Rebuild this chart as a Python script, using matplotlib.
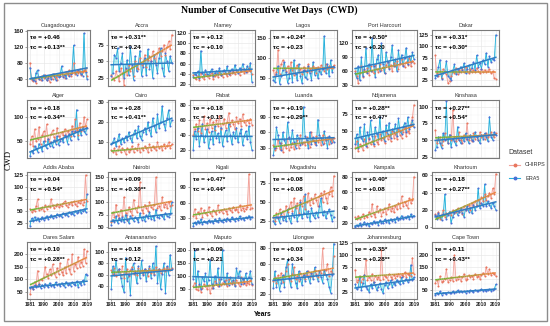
import numpy as np
import matplotlib
matplotlib.use("Agg")
import matplotlib.pyplot as plt
from matplotlib.collections import LineCollection
from matplotlib.patches import Rectangle
from matplotlib.lines import Line2D
from matplotlib.ticker import AutoMinorLocator

plt.rcParams["font.family"] = ["Liberation Sans", "DejaVu Sans"]

# ---------------- data ----------------
years = list(range(1981, 2020))
x_ticks = [1981, 1990, 2000, 2010, 2019]

cities = ["Ouagadougou", "Accra", "Niamey", "Lagos", "Port Harcourt", "Dakar",
          "Alger", "Cairo", "Rabat", "Luanda", "Ndjamena", "Kinshasa",
          "Addis Ababa", "Nairobi", "Kigali", "Mogadishu", "Kampala", "Khartoum",
          "Dares Salam", "Antananarivo", "Maputo", "Lilongwe", "Johannesburg", "Cape Town"]

tau_e = ["+0.46", "+0.31**", "+0.12", "+0.24*", "+0.50*", "+0.31*",
         "+0.18", "+0.28", "+0.18", "+0.19", "+0.28**", "+0.27**",
         "+0.04", "+0.09", "+0.47*", "+0.08", "+0.40*", "+0.18",
         "+0.10", "+0.18", "+0.09", "+0.03", "+0.35*", "+0.11"]
tau_c = ["+0.13**", "+0.24", "+0.10", "+0.23", "+0.20", "+0.30*",
         "+0.34**", "+0.41**", "+0.13", "+0.29**", "+0.47*", "+0.54*",
         "+0.54*", "+0.30**", "+0.44*", "+0.08", "+0.08", "+0.27**",
         "+0.28**", "+0.12", "+0.21", "+0.34", "+0.28**", "+0.43**"]

y_ticks = [[40, 80, 120, 160], [25, 50, 75], [20, 40, 60, 80, 100, 120], [50, 100, 150],
           [30, 60, 90, 120], [25, 50, 75, 100, 125],
           [50, 100], [10, 20, 30], [20, 40, 60, 80], [30, 60, 90], [25, 50, 75], [25, 50, 75, 100],
           [25, 50, 75, 100, 125], [50, 75, 100, 125, 150], [30, 60, 90], [25, 50, 75],
           [20, 40, 60, 80], [0, 20, 40, 60],
           [50, 100, 150, 200], [40, 60, 80, 100], [50, 100, 150, 200], [20, 40, 60, 80],
           [25, 50, 75, 100, 125], [50, 100, 150, 200]]
y_lims = [(22, 162), (13, 97), (17, 125), (30, 170), (28, 148), (12, 136),
          (15, 135), (2, 31), (9, 87), (10, 123), (10, 95), (23, 110),
          (15, 131), (48, 160), (11, 119), (15, 90), (14, 86), (-1, 64),
          (20, 250), (18, 117), (12, 230), (14, 88), (10, 127), (13, 255)]

chirps_ouagadougou = [80, 38, 35, 42, 30, 45, 40, 36, 48, 42, 50, 38, 44, 32, 46, 40, 52, 45, 38, 50,
                      46, 55, 48, 42, 58, 50, 62, 47, 55, 80, 52, 60, 55, 64, 50, 58, 62, 66, 48]
era5_ouagadougou = [68, 42, 38, 35, 55, 62, 40, 45, 38, 50, 45, 36, 42, 48, 40, 52, 46, 38, 50, 44,
                    48, 72, 45, 50, 42, 55, 48, 52, 60, 124, 56, 50, 62, 58, 52, 48, 154, 58, 40]
chirps_accra = [30, 25, 22, 35, 28, 20, 40, 32, 15, 38, 30, 45, 35, 42, 28, 50, 40, 38, 55, 45,
                48, 60, 42, 52, 58, 50, 65, 55, 48, 62, 70, 58, 66, 75, 60, 72, 80, 68, 90]
era5_accra = [28, 32, 60, 55, 70, 35, 48, 62, 25, 40, 52, 30, 72, 45, 22, 58, 35, 48, 66, 28,
              42, 55, 30, 68, 38, 50, 25, 60, 45, 32, 55, 70, 40, 28, 62, 50, 35, 58, 48]
chirps_niamey = [38, 32, 30, 36, 28, 42, 34, 30, 40, 36, 33, 38, 42, 30, 36, 40, 34, 44, 38, 35,
                 42, 40, 36, 45, 38, 42, 46, 40, 48, 44, 38, 46, 50, 42, 48, 44, 52, 46, 40]
era5_niamey = [35, 40, 38, 45, 32, 85, 42, 36, 48, 40, 38, 44, 50, 36, 42, 46, 40, 52, 38, 45,
               48, 42, 55, 40, 46, 50, 44, 58, 48, 42, 52, 46, 60, 50, 44, 56, 48, 62, 25]
chirps_lagos = [70, 55, 65, 120, 60, 85, 95, 75, 68, 80, 62, 90, 70, 58, 75, 82, 66, 72, 60, 78,
                70, 64, 85, 72, 68, 80, 74, 62, 78, 70, 82, 76, 68, 84, 72, 80, 78, 74, 82]
era5_lagos = [45, 40, 60, 80, 35, 55, 70, 90, 65, 38, 50, 75, 40, 95, 60, 45, 85, 55, 38, 70,
              52, 48, 80, 62, 45, 90, 58, 75, 50, 68, 60, 72, 155, 62, 85, 55, 95, 65, 78]
chirps_portharcourt = [60, 50, 35, 55, 70, 48, 62, 58, 66, 52, 70, 60, 55, 72, 64, 58, 75, 62, 68, 55,
                       72, 80, 66, 74, 60, 78, 70, 82, 65, 76, 85, 72, 68, 80, 74, 88, 70, 82, 78]
era5_portharcourt = [55, 45, 70, 40, 90, 50, 65, 110, 55, 75, 60, 130, 70, 48, 85, 95, 60, 120, 75, 55,
                     100, 80, 65, 90, 115, 70, 85, 60, 105, 78, 95, 70, 88, 110, 75, 92, 80, 100, 85]
chirps_dakar = [80, 40, 35, 45, 30, 50, 42, 38, 18, 22, 35, 45, 40, 52, 38, 48, 44, 50, 42, 55,
                46, 40, 50, 44, 48, 42, 52, 45, 40, 50, 44, 48, 42, 46, 50, 40, 45, 30, 28]
era5_dakar = [30, 35, 55, 70, 28, 40, 45, 68, 35, 30, 25, 45, 60, 38, 50, 42, 55, 48, 62, 40,
              50, 58, 45, 52, 65, 48, 80, 55, 62, 50, 70, 60, 85, 55, 78, 65, 72, 70, 125]

chirps_alger = [45, 60, 40, 75, 50, 55, 80, 45, 62, 70, 50, 85, 55, 48, 65, 72, 58, 50, 78, 60,
                55, 68, 62, 75, 58, 70, 65, 60, 82, 68, 95, 72, 62, 88, 70, 75, 100, 80, 95]
era5_alger = [20, 30, 25, 40, 35, 28, 45, 38, 30, 50, 42, 35, 55, 40, 48, 38, 52, 45, 60, 42,
              50, 55, 48, 62, 58, 45, 65, 52, 70, 60, 70, 115, 55, 75, 62, 80, 70, 65, 78]
chirps_cairo = [6, 5, 7, 4, 6, 8, 5, 7, 6, 4, 7, 5, 6, 8, 5, 7, 6, 9, 5, 7,
                6, 8, 7, 5, 9, 6, 8, 7, 6, 10, 7, 8, 6, 9, 7, 8, 10, 7, 9]
era5_cairo = [9, 10, 12, 8, 11, 14, 9, 12, 10, 13, 11, 15, 12, 10, 14, 16, 12, 18, 13, 11,
              15, 17, 14, 20, 16, 13, 22, 18, 15, 24, 17, 20, 28, 19, 16, 22, 26, 18, 21]
chirps_rabat = [40, 48, 55, 45, 60, 42, 52, 65, 48, 56, 44, 62, 50, 58, 46, 60, 52, 66, 48, 55,
                62, 50, 58, 70, 52, 60, 55, 48, 64, 56, 62, 52, 68, 58, 54, 60, 56, 62, 54]
era5_rabat = [20, 45, 35, 50, 25, 40, 55, 30, 38, 48, 22, 35, 45, 28, 52, 36, 42, 30, 50, 25,
              38, 46, 32, 55, 40, 28, 44, 36, 50, 30, 42, 48, 26, 38, 45, 34, 52, 30, 20]
chirps_luanda = [35, 25, 30, 45, 28, 40, 22, 35, 30, 48, 25, 32, 40, 28, 36, 45, 30, 55, 38, 42,
                 35, 50, 40, 32, 60, 45, 38, 52, 42, 48, 35, 55, 40, 45, 50, 38, 46, 42, 48]
era5_luanda = [15, 30, 70, 55, 40, 25, 60, 45, 35, 80, 50, 38, 65, 42, 30, 55, 48, 35, 40, 110,
               52, 45, 30, 60, 38, 50, 42, 35, 85, 55, 48, 38, 62, 45, 30, 52, 40, 48, 42]
chirps_ndjamena = [25, 35, 20, 30, 28, 22, 38, 32, 26, 40, 30, 35, 28, 42, 34, 30, 45, 36, 40, 32,
                   48, 38, 42, 35, 50, 40, 45, 38, 52, 44, 40, 48, 55, 42, 50, 46, 60, 70, 88]
era5_ndjamena = [30, 45, 25, 55, 40, 35, 60, 28, 48, 38, 65, 42, 30, 55, 45, 38, 70, 40, 50, 35,
                 58, 45, 62, 40, 52, 48, 60, 42, 68, 50, 45, 55, 62, 48, 70, 52, 58, 65, 55]
chirps_kinshasa = [65, 45, 50, 55, 42, 48, 60, 52, 45, 58, 50, 95, 55, 48, 52, 62, 50, 45, 58, 52,
                   75, 50, 55, 48, 60, 52, 56, 50, 62, 55, 58, 52, 60, 55, 57, 62, 58, 55, 60]
era5_kinshasa = [35, 40, 55, 45, 38, 60, 50, 108, 45, 58, 40, 52, 48, 42, 70, 50, 45, 55, 48, 60,
                 52, 45, 58, 50, 48, 62, 55, 50, 45, 58, 52, 60, 55, 48, 85, 55, 50, 62, 58]

chirps_addis = [55, 48, 52, 50, 60, 75, 52, 55, 58, 50, 62, 55, 60, 58, 75, 62, 56, 60, 65, 58,
                62, 60, 66, 70, 62, 58, 65, 68, 62, 70, 65, 60, 68, 66, 72, 62, 68, 125, 70]
era5_addis = [20, 35, 30, 38, 32, 36, 30, 34, 38, 32, 36, 40, 34, 38, 42, 36, 40, 38, 44, 40,
              42, 38, 46, 42, 44, 40, 48, 44, 46, 42, 50, 46, 48, 52, 46, 50, 54, 48, 85]
chirps_nairobi = [60, 80, 70, 95, 75, 68, 85, 72, 110, 78, 65, 90, 82, 75, 105, 88, 80, 92, 140, 85,
                  78, 95, 88, 82, 100, 90, 86, 95, 150, 88, 92, 84, 110, 90, 96, 88, 100, 92, 95]
era5_nairobi = [55, 65, 60, 72, 58, 68, 62, 70, 60, 75, 65, 58, 72, 68, 62, 70, 66, 60, 78, 65,
                70, 62, 74, 68, 80, 66, 72, 64, 85, 70, 68, 75, 72, 66, 78, 72, 70, 76, 100]
chirps_kigali = [35, 48, 30, 42, 38, 50, 32, 45, 40, 36, 52, 40, 34, 46, 42, 38, 55, 42, 45, 40,
                 48, 44, 38, 50, 46, 42, 52, 45, 48, 42, 55, 46, 50, 44, 48, 52, 115, 48, 50]
era5_kigali = [15, 22, 18, 25, 20, 28, 18, 24, 22, 20, 26, 22, 25, 20, 28, 24, 22, 30, 25, 22,
               28, 24, 30, 26, 24, 32, 28, 25, 30, 27, 34, 28, 30, 26, 32, 30, 35, 28, 32]
chirps_mogadishu = [30, 25, 35, 28, 40, 32, 38, 30, 45, 36, 42, 50, 38, 55, 42, 48, 35, 52, 45, 58,
                    40, 50, 62, 46, 55, 48, 60, 52, 45, 58, 62, 50, 65, 55, 48, 60, 70, 58, 85]
era5_mogadishu = [25, 20, 30, 28, 22, 35, 26, 30, 24, 40, 28, 22, 35, 30, 45, 25, 32, 50, 28, 35,
                  60, 30, 38, 25, 42, 32, 28, 36, 30, 45, 55, 32, 38, 28, 35, 40, 32, 25, 30]
chirps_kampala = [28, 25, 30, 26, 28, 32, 27, 30, 28, 35, 30, 45, 32, 28, 42, 34, 38, 30, 35, 40,
                  32, 38, 45, 36, 40, 34, 42, 38, 46, 40, 55, 42, 48, 44, 40, 52, 46, 50, 80]
era5_kampala = [15, 18, 16, 20, 17, 19, 22, 18, 20, 16, 21, 19, 23, 20, 22, 18, 24, 21, 20, 25,
                22, 24, 20, 26, 23, 25, 22, 28, 24, 26, 30, 25, 28, 27, 30, 26, 32, 28, 30]
chirps_khartoum = [15, 12, 18, 10, 14, 20, 12, 16, 15, 18, 14, 20, 16, 18, 22, 17, 20, 15, 24, 20,
                   22, 26, 20, 28, 24, 30, 26, 32, 28, 35, 30, 38, 32, 36, 40, 34, 45, 38, 62]
era5_khartoum = [14, 10, 16, 12, 8, 15, 38, 10, 14, 18, 5, 12, 16, 20, 14, 18, 22, 16, 12, 20,
                 24, 18, 22, 16, 26, 20, 24, 45, 22, 28, 25, 50, 24, 30, 26, 22, 28, 24, 20]

chirps_daressalam = [40, 70, 60, 90, 75, 135, 80, 100, 95, 110, 150, 120, 105, 140, 115, 160, 125, 110, 145, 120,
                     165, 130, 115, 150, 125, 180, 140, 120, 200, 135, 160, 145, 190, 150, 170, 155, 220, 165, 215]
era5_daressalam = [65, 70, 60, 75, 68, 72, 80, 65, 78, 70, 82, 75, 68, 85, 72, 78, 70, 88, 75, 80,
                   72, 85, 78, 70, 90, 76, 82, 74, 88, 80, 75, 92, 70, 85, 78, 95, 82, 120, 115]
chirps_antananarivo = [68, 62, 72, 58, 66, 70, 60, 75, 55, 64, 70, 58, 68, 74, 62, 66, 60, 72, 65, 68,
                       62, 70, 66, 58, 72, 64, 68, 62, 74, 66, 70, 64, 68, 72, 66, 74, 70, 68, 72]
era5_antananarivo = [35, 75, 60, 85, 65, 70, 55, 40, 30, 90, 50, 60, 25, 70, 80, 65, 45, 75, 55, 85,
                     60, 70, 50, 65, 75, 55, 80, 60, 110, 45, 70, 35, 62, 80, 28, 75, 60, 95, 70]
chirps_maputo = [60, 75, 50, 45, 65, 40, 55, 70, 60, 50, 65, 35, 55, 60, 80, 70, 60, 90, 65, 75,
                 70, 85, 60, 90, 75, 70, 80, 65, 85, 75, 60, 95, 70, 80, 65, 75, 70, 85, 65]
era5_maputo = [90, 200, 60, 120, 70, 50, 95, 80, 110, 65, 85, 160, 70, 55, 100, 75, 130, 60, 90, 200,
               80, 70, 110, 65, 95, 75, 85, 60, 130, 100, 120, 70, 90, 75, 110, 80, 95, 120, 70]
chirps_lilongwe = [38, 42, 35, 45, 40, 48, 36, 44, 50, 60, 42, 38, 46, 55, 40, 44, 38, 48, 42, 46,
                   40, 45, 50, 42, 48, 44, 52, 46, 42, 50, 48, 80, 46, 52, 60, 44, 50, 48, 70]
era5_lilongwe = [28, 50, 30, 40, 25, 35, 45, 30, 55, 65, 40, 30, 60, 45, 35, 28, 50, 40, 32, 45,
                 38, 50, 42, 35, 48, 40, 55, 45, 38, 50, 42, 35, 52, 45, 40, 30, 22, 45, 86]
chirps_johannesburg = [70, 45, 50, 58, 45, 52, 60, 90, 48, 55, 50, 62, 45, 58, 52, 55, 48, 110, 52, 58,
                       55, 50, 62, 56, 52, 60, 54, 58, 62, 55, 60, 58, 65, 56, 62, 60, 58, 95, 62]
era5_johannesburg = [40, 30, 35, 55, 28, 42, 60, 35, 30, 25, 40, 32, 45, 38, 28, 35, 42, 30, 22, 38,
                     45, 32, 40, 48, 35, 42, 38, 50, 45, 40, 55, 42, 48, 52, 45, 50, 80, 48, 55]
chirps_capetown = [80, 95, 70, 110, 85, 90, 100, 140, 85, 95, 105, 90, 200, 95, 100, 110, 90, 105, 120, 95,
                   100, 115, 105, 110, 100, 120, 108, 112, 100, 115, 125, 110, 150, 120, 140, 115, 125, 118, 110]
era5_capetown = [30, 40, 35, 45, 32, 40, 38, 35, 42, 40, 38, 45, 40, 42, 50, 44, 48, 42, 46, 40,
                 48, 44, 50, 46, 42, 52, 48, 45, 50, 55, 48, 52, 46, 50, 54, 48, 52, 55, 75]

chirps = [chirps_ouagadougou, chirps_accra, chirps_niamey, chirps_lagos, chirps_portharcourt, chirps_dakar,
          chirps_alger, chirps_cairo, chirps_rabat, chirps_luanda, chirps_ndjamena, chirps_kinshasa,
          chirps_addis, chirps_nairobi, chirps_kigali, chirps_mogadishu, chirps_kampala, chirps_khartoum,
          chirps_daressalam, chirps_antananarivo, chirps_maputo, chirps_lilongwe, chirps_johannesburg,
          chirps_capetown]
era5 = [era5_ouagadougou, era5_accra, era5_niamey, era5_lagos, era5_portharcourt, era5_dakar,
        era5_alger, era5_cairo, era5_rabat, era5_luanda, era5_ndjamena, era5_kinshasa,
        era5_addis, era5_nairobi, era5_kigali, era5_mogadishu, era5_kampala, era5_khartoum,
        era5_daressalam, era5_antananarivo, era5_maputo, era5_lilongwe, era5_johannesburg,
        era5_capetown]

# ---------------- layout (pixels of a 550x326 image) ----------------
W, H = 550, 326
col_px = [(27, 90), (108, 175), (190, 255), (270, 337), (352, 417), (432, 499)]
row_px = [(30, 86), (100, 158), (172, 228), (242, 299)]

c_line, c_pt, c_fill = "#F2A39B", "#E8765E", "#F8766D"
e_line, e_pt, e_fill = "#27AEDC", "#4A6FD6", "#00C8D0"
green, orange = np.array([0.42, 0.72, 0.20]), np.array([0.93, 0.52, 0.25])

fig = plt.figure(figsize=(W / 100, H / 100), dpi=100)
fig.patches.append(Rectangle((4 / W, 1 - 321 / H), 543 / W, 318 / H, transform=fig.transFigure,
                             fill=False, edgecolor="#8C8C8C", linewidth=1.0))

yr = np.array(years, dtype=float)
for i, city in enumerate(cities):
    r, c = divmod(i, 6)
    l, rr = col_px[c]
    t, b = row_px[r]
    ax = fig.add_axes([l / W, 1 - b / H, (rr - l) / W, (b - t) / H])

    ch = np.array(chirps[i], dtype=float)
    er = np.array(era5[i], dtype=float)
    kc = np.polyfit(yr, ch, 1)
    ke = np.polyfit(yr, er, 1)
    tc = np.polyval(kc, yr)
    te = np.polyval(ke, yr)

    ax.fill_between(yr, ch, tc, step="mid", color=c_fill, alpha=0.2, linewidth=0)
    ax.fill_between(yr, er, te, step="mid", color=e_fill, alpha=0.28, linewidth=0)
    ax.plot(yr, ch, color=c_line, lw=0.6, zorder=3)
    ax.plot(yr, er, color=e_line, lw=0.6, zorder=3)
    ax.scatter(yr, ch, s=2.2, color=c_pt, zorder=4, linewidths=0)
    ax.scatter(yr, er, s=2.2, color=e_pt, zorder=4, linewidths=0)

    # CHIRPS trend drawn green -> orange
    xs = np.linspace(1981, 2019, 30)
    ys = np.polyval(kc, xs)
    seg = np.stack([np.column_stack([xs[:-1], ys[:-1]]), np.column_stack([xs[1:], ys[1:]])], axis=1)
    fr = np.linspace(0, 1, len(seg))[:, None]
    ax.add_collection(LineCollection(seg, colors=green * (1 - fr) + orange * fr, linewidths=1.1, zorder=5))
    ax.plot(yr, te, color="#2F7DC4", lw=1.1, zorder=5)

    ax.set_xlim(1979, 2021)
    ax.set_ylim(*y_lims[i])
    ax.set_yticks(y_ticks[i])
    ax.set_xticks(x_ticks)
    ax.xaxis.set_minor_locator(AutoMinorLocator(2))
    ax.yaxis.set_minor_locator(AutoMinorLocator(2))
    ax.grid(which="major", color="#E6E6E6", lw=0.45)
    ax.grid(which="minor", color="#F2F2F2", lw=0.3)
    ax.set_axisbelow(True)
    ax.tick_params(which="minor", length=0)
    ax.tick_params(which="major", length=1.5, width=0.4, color="#555555", pad=1,
                   labelsize=4.3, labelcolor="#222222")
    ax.tick_params(axis="x", labelsize=3.6)
    for lab in ax.get_yticklabels() + ax.get_xticklabels():
        lab.set_fontweight("bold")
    if r < 3:
        ax.tick_params(axis="x", labelbottom=False, length=0)
    for sp in ax.spines.values():
        sp.set_edgecolor("#7A7A7A")
        sp.set_linewidth(0.8)

    ax.set_title(city, fontsize=4.0, color="#333333", pad=2)
    ax.text(0.04, 0.86, "\u03c4e = " + tau_e[i], transform=ax.transAxes, fontsize=4.6,
            fontweight="bold", va="center", ha="left", zorder=6)
    ax.text(0.04, 0.69, "\u03c4c = " + tau_c[i], transform=ax.transAxes, fontsize=4.6,
            fontweight="bold", va="center", ha="left", zorder=6)

fig.text(269 / W, 1 - 10 / H, "Number of Consecutive Wet Days  (CWD)", ha="center", va="center",
         fontsize=7, fontweight="bold", family="Liberation Serif")
fig.text(9 / W, 1 - 160 / H, "CWD", rotation=90, ha="center", va="center",
         fontsize=6.2, family="Liberation Serif")
fig.text(263 / W, 1 - 314 / H, "Years", ha="center", va="center", fontsize=4.8, fontweight="bold")

# legend
fig.text(508 / W, 1 - 152 / H, "Dataset", ha="left", va="center", fontsize=5, color="#333333")
for yy, lab, lc, pc in [(165, "CHIRPS", c_line, c_pt), (178, "ERA5", e_line, e_pt)]:
    fig.add_artist(Line2D([509 / W, 520 / W], [1 - yy / H, 1 - yy / H], transform=fig.transFigure,
                          color=lc, lw=0.8))
    fig.add_artist(Line2D([514.5 / W], [1 - yy / H], transform=fig.transFigure, marker="o",
                          markersize=1.8, color=pc, lw=0))
    fig.text(525 / W, 1 - yy / H, lab, ha="left", va="center", fontsize=4, color="#333333")

fig.savefig("out.png", dpi=100)
